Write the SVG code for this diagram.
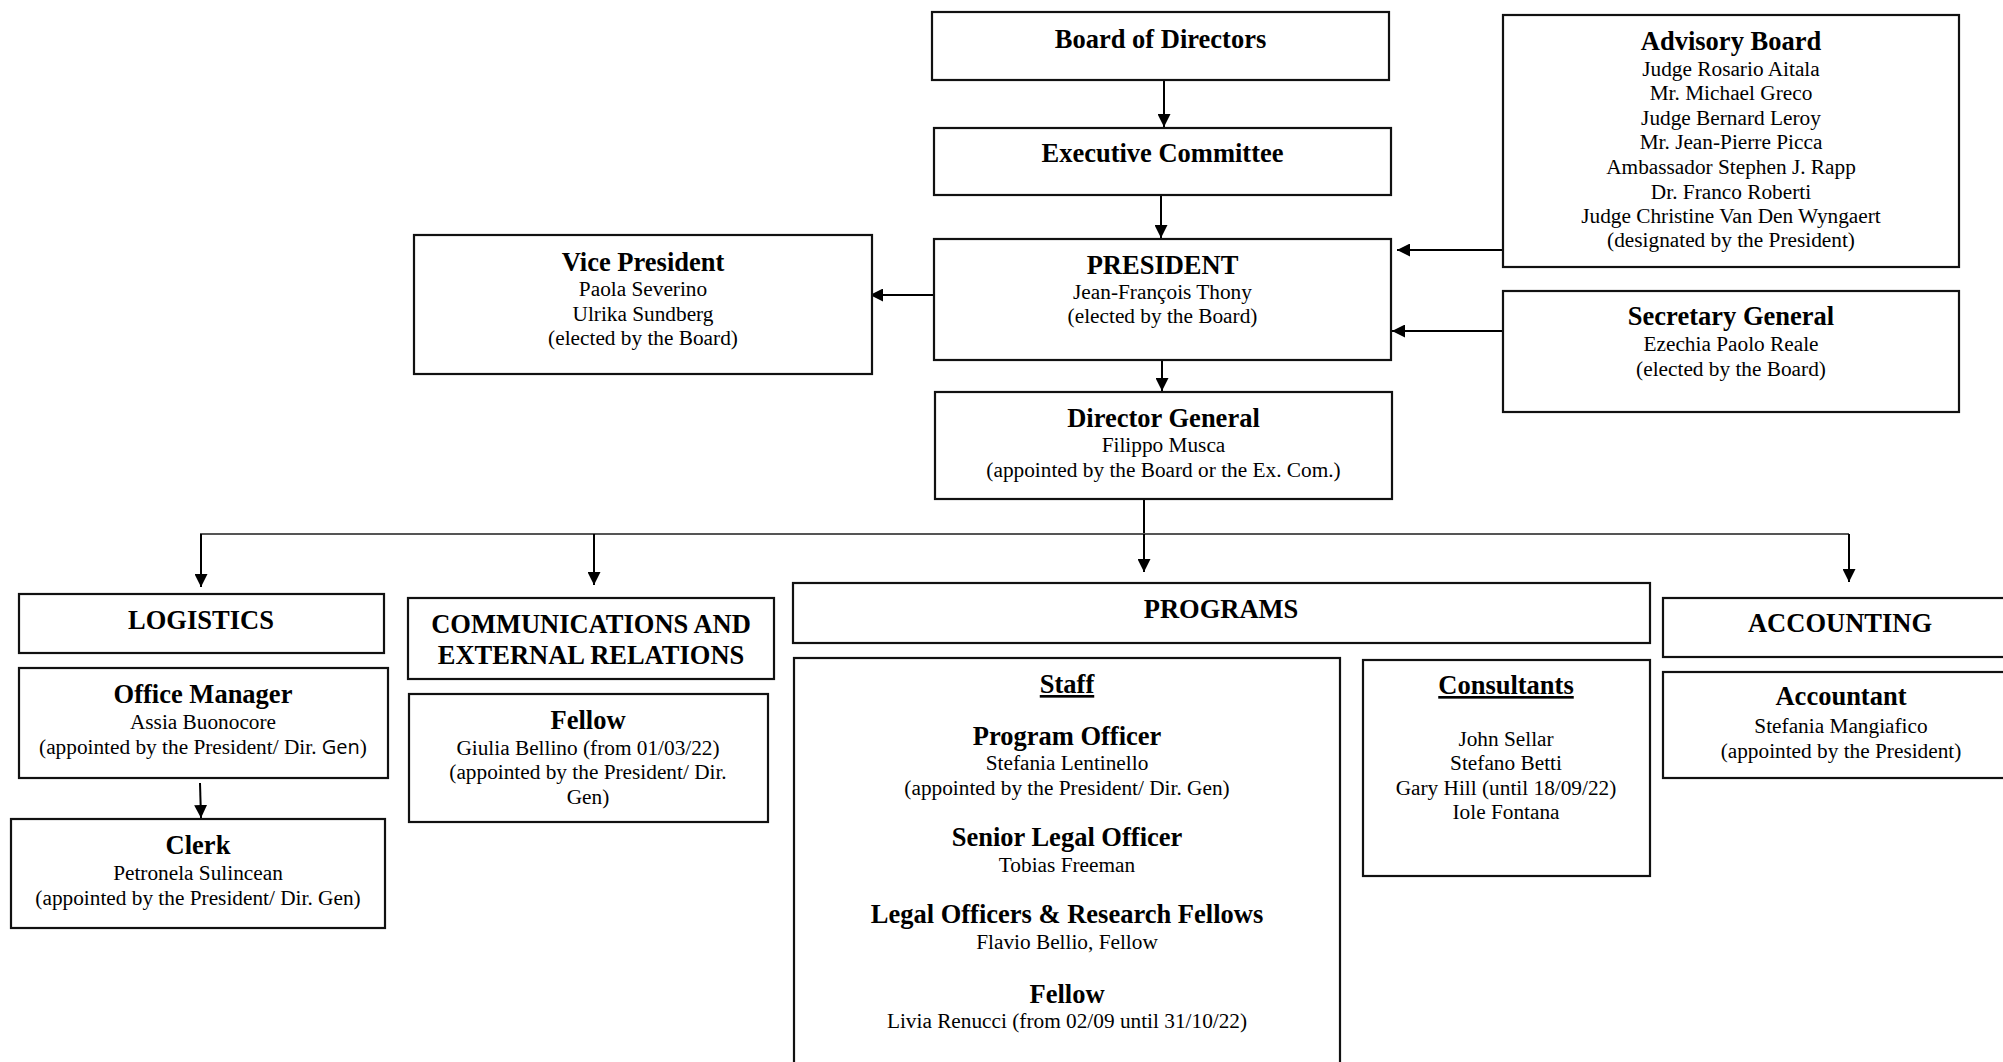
<svg xmlns="http://www.w3.org/2000/svg" width="2003" height="1062" viewBox="0 0 2003 1062">
<defs>
<style>
.box{fill:#fff;stroke:#111;stroke-width:2.2}
.h{font-family:"Liberation Serif","Times New Roman",serif;font-weight:bold;font-size:26.5px;fill:#000;text-anchor:middle}
.t{font-family:"Liberation Serif","Times New Roman",serif;font-size:21.3px;fill:#000;text-anchor:middle}
.u{text-decoration:underline}
.sans{font-family:"Open Sans","Liberation Sans",sans-serif;font-size:20px}
.c{fill:none;stroke:#000;stroke-width:2}
.bus{fill:none;stroke:#555;stroke-width:2}
</style>
<marker id="ah" viewBox="0 0 10 10" refX="10" refY="5" markerWidth="6.5" markerHeight="6.5" markerUnits="strokeWidth" orient="auto">
<path d="M0,0 L10,5 L0,10 z" fill="#000"/>
</marker>
</defs>
<rect width="2003" height="1062" fill="#fff"/>

<g id="connectors">
<line class="c" x1="1164" y1="80" x2="1164" y2="127" marker-end="url(#ah)"/>
<line class="c" x1="1161" y1="195" x2="1161" y2="238" marker-end="url(#ah)"/>
<line class="c" x1="1162" y1="360" x2="1162" y2="391" marker-end="url(#ah)"/>
<line class="c" x1="934" y1="295" x2="870" y2="295" marker-end="url(#ah)"/>
<line class="c" x1="1503" y1="250" x2="1397" y2="250" marker-end="url(#ah)"/>
<line class="c" x1="1503" y1="331" x2="1392" y2="331" marker-end="url(#ah)"/>
<line class="c" x1="1144" y1="499" x2="1144" y2="534"/>
<polyline class="bus" points="201,587 201,534 1849,534"/>
<line class="c" x1="201" y1="534" x2="201" y2="587" marker-end="url(#ah)"/>
<line class="c" x1="594" y1="534" x2="594" y2="585" marker-end="url(#ah)"/>
<line class="c" x1="1144" y1="534" x2="1144" y2="572" marker-end="url(#ah)"/>
<line class="c" x1="1849" y1="534" x2="1849" y2="582" marker-end="url(#ah)"/>
<line class="c" x1="200" y1="783" x2="201" y2="818" marker-end="url(#ah)"/>
</g>

<g id="board">
<rect class="box" x="932" y="12" width="457" height="68"/>
<text class="h" x="1160.5" y="48">Board of Directors</text>
</g>

<g id="executive">
<rect class="box" x="934" y="128" width="457" height="67"/>
<text class="h" x="1162.5" y="162">Executive Committee</text>
</g>

<g id="president">
<rect class="box" x="934" y="239" width="457" height="121"/>
<text class="h" x="1162.5" y="274">PRESIDENT</text>
<text class="t" x="1162.5" y="299">Jean-François Thony</text>
<text class="t" x="1162.5" y="323">(elected by the Board)</text>
</g>

<g id="advisory">
<rect class="box" x="1503" y="15" width="456" height="252"/>
<text class="h" x="1731" y="50">Advisory Board</text>
<text class="t" x="1731" y="76">Judge Rosario Aitala</text>
<text class="t" x="1731" y="100">Mr. Michael Greco</text>
<text class="t" x="1731" y="124.5">Judge Bernard Leroy</text>
<text class="t" x="1731" y="149">Mr. Jean-Pierre Picca</text>
<text class="t" x="1731" y="174">Ambassador Stephen J. Rapp</text>
<text class="t" x="1731" y="198.5">Dr. Franco Roberti</text>
<text class="t" x="1731" y="222.5">Judge Christine Van Den Wyngaert</text>
<text class="t" x="1731" y="247">(designated by the President)</text>
</g>

<g id="vice">
<rect class="box" x="414" y="235" width="458" height="139"/>
<text class="h" x="643" y="271">Vice President</text>
<text class="t" x="643" y="296">Paola Severino</text>
<text class="t" x="643" y="320.5">Ulrika Sundberg</text>
<text class="t" x="643" y="345">(elected by the Board)</text>
</g>

<g id="secretary">
<rect class="box" x="1503" y="291" width="456" height="121"/>
<text class="h" x="1731" y="325">Secretary General</text>
<text class="t" x="1731" y="351">Ezechia Paolo Reale</text>
<text class="t" x="1731" y="376">(elected by the Board)</text>
</g>

<g id="director">
<rect class="box" x="935" y="392" width="457" height="107"/>
<text class="h" x="1163.5" y="427">Director General</text>
<text class="t" x="1163.5" y="452">Filippo Musca</text>
<text class="t" x="1163.5" y="477">(appointed by the Board or the Ex. Com.)</text>
</g>

<g id="logistics">
<rect class="box" x="19" y="594" width="365" height="59"/>
<text class="h" x="201" y="629">LOGISTICS</text>
</g>

<g id="office-manager">
<rect class="box" x="19" y="668" width="369" height="110"/>
<text class="h" x="203" y="703">Office Manager</text>
<text class="t" x="203" y="729">Assia Buonocore</text>
<text class="t" x="203" y="754">(appointed by the President/ Dir. <tspan class="sans">Gen</tspan>)</text>
</g>

<g id="clerk">
<rect class="box" x="11" y="819" width="374" height="109"/>
<text class="h" x="198" y="854">Clerk</text>
<text class="t" x="198" y="880">Petronela Sulincean</text>
<text class="t" x="198" y="905">(appointed by the President/ Dir. Gen)</text>
</g>

<g id="communications">
<rect class="box" x="408" y="598" width="366" height="81"/>
<text class="h" x="591" y="633">COMMUNICATIONS AND</text>
<text class="h" x="591" y="664">EXTERNAL RELATIONS</text>
</g>

<g id="comms-fellow">
<rect class="box" x="409" y="694" width="359" height="128"/>
<text class="h" x="588" y="729">Fellow</text>
<text class="t" x="588" y="755">Giulia Bellino (from 01/03/22)</text>
<text class="t" x="588" y="779">(appointed by the President/ Dir.</text>
<text class="t" x="588" y="804">Gen)</text>
</g>

<g id="programs">
<rect class="box" x="793" y="583" width="857" height="60"/>
<text class="h" x="1221" y="618">PROGRAMS</text>
</g>

<g id="staff">
<rect class="box" x="794" y="658" width="546" height="420"/>
<text class="h u" x="1067" y="693">Staff</text>
<text class="h" x="1067" y="745">Program Officer</text>
<text class="t" x="1067" y="770">Stefania Lentinello</text>
<text class="t" x="1067" y="795">(appointed by the President/ Dir. Gen)</text>
<text class="h" x="1067" y="846">Senior Legal Officer</text>
<text class="t" x="1067" y="872">Tobias Freeman</text>
<text class="h" x="1067" y="923">Legal Officers &amp; Research Fellows</text>
<text class="t" x="1067" y="949">Flavio Bellio, Fellow</text>
<text class="h" x="1067" y="1003">Fellow</text>
<text class="t" x="1067" y="1028">Livia Renucci (from 02/09 until 31/10/22)</text>
</g>

<g id="consultants">
<rect class="box" x="1363" y="660" width="287" height="216"/>
<text class="h u" x="1506" y="694">Consultants</text>
<text class="t" x="1506" y="746">John Sellar</text>
<text class="t" x="1506" y="770">Stefano Betti</text>
<text class="t" x="1506" y="795">Gary Hill (until 18/09/22)</text>
<text class="t" x="1506" y="819">Iole Fontana</text>
</g>

<g id="accounting">
<rect class="box" x="1663" y="598" width="360" height="59"/>
<text class="h" x="1840" y="632">ACCOUNTING</text>
</g>

<g id="accountant">
<rect class="box" x="1663" y="672" width="360" height="106"/>
<text class="h" x="1841" y="705">Accountant</text>
<text class="t" x="1841" y="733">Stefania Mangiafico</text>
<text class="t" x="1841" y="758">(appointed by the President)</text>
</g>
</svg>
